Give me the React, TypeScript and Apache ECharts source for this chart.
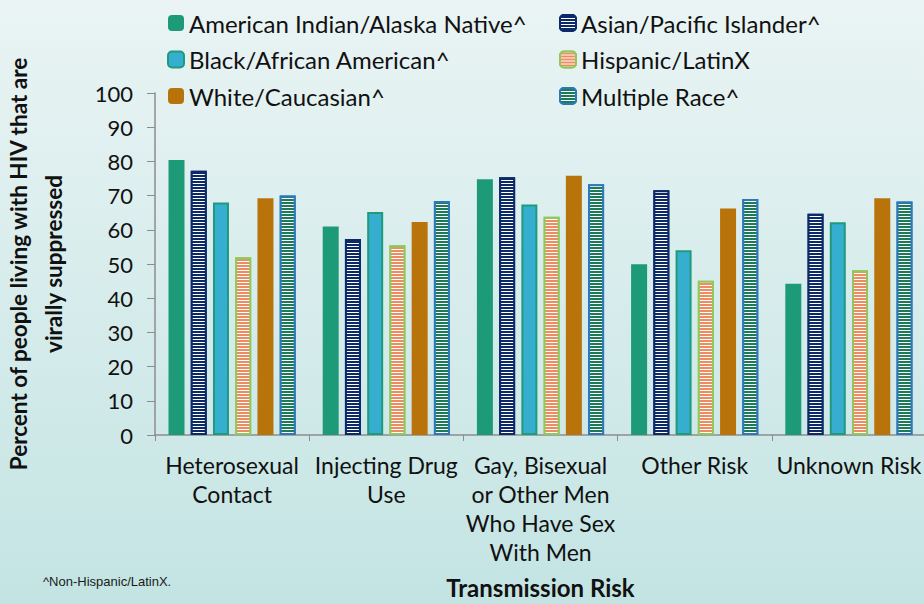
import React, { useEffect, useRef } from "react";
import * as echarts from "echarts";

const categories = [
  "Heterosexual\nContact",
  "Injecting Drug\nUse",
  "Gay, Bisexual\nor Other Men\nWho Have Sex\nWith Men",
  "Other Risk",
  "Unknown Risk",
];

const seriesNames = [
  "American Indian/Alaska Native^",
  "Asian/Pacific Islander^",
  "Black/African American^",
  "Hispanic/LatinX",
  "White/Caucasian^",
  "Multiple Race^",
];

const aiValues = [80.4, 61, 74.8, 49.9, 44.2];
const asianValues = [77.3, 57.3, 75.4, 71.6, 64.7];
const blackValues = [68, 65.2, 67.4, 54, 62.2];
const hispanicValues = [52, 55.5, 63.8, 45.1, 48.2];
const whiteValues = [69.2, 62.3, 75.8, 66.2, 69.2];
const multipleValues = [70, 68.4, 73.3, 69, 68.3];

const yTicks = [0, 10, 20, 30, 40, 50, 60, 70, 80, 90, 100];

const FONT = "Lato";

function stripeDecal() {
  return {
    symbol: "rect",
    symbolSize: 1,
    symbolKeepAspect: false,
    dashArrayX: [[20, 0]],
    dashArrayY: [1, 2],
    color: "#ffffff",
    rotation: 0,
  };
}

export default function App() {
  const ref = useRef<HTMLDivElement>(null);

  useEffect(() => {
    if (!ref.current) return;
    const chart = echarts.init(ref.current, null, { renderer: "svg" });

    const styles = [
      { color: "#1d9a78" },
      { color: "#0c2a68", borderColor: "#0c2a68", borderWidth: 2, decal: stripeDecal() },
      { color: "#36aed0", borderColor: "#1f9a7c", borderWidth: 2 },
      { color: "#ee8b60", borderColor: "#93c75c", borderWidth: 2, decal: stripeDecal() },
      { color: "#b8740b" },
      { color: "#1b7b57", borderColor: "#2d78b8", borderWidth: 2, decal: stripeDecal() },
    ];
    const values = [aiValues, asianValues, blackValues, hispanicValues, whiteValues, multipleValues];

    const series = seriesNames.map((name, i) => ({
      name,
      type: "bar",
      data: values[i],
      barWidth: 16,
      barGap: "39%",
      itemStyle: styles[i],
      emphasis: { disabled: true },
    }));

    const legendText = { fontFamily: FONT, fontSize: 24, lineHeight: 24, color: "#111111" };

    chart.setOption({
      animation: false,
      backgroundColor: new echarts.graphic.LinearGradient(0, 0, 0, 1, [
        { offset: 0, color: "#eaf4f4" },
        { offset: 1, color: "#c3e4e3" },
      ]),
      legend: [
        {
          data: [seriesNames[0], seriesNames[2], seriesNames[4]],
          orient: "vertical",
          left: 167,
          top: 11,
          padding: 0,
          itemWidth: 16,
          itemHeight: 16,
          itemGap: 12.5,
          textStyle: legendText,
          selectedMode: false,
        },
        {
          data: [seriesNames[1], seriesNames[3], seriesNames[5]],
          orient: "vertical",
          left: 559,
          top: 11,
          padding: 0,
          itemWidth: 16,
          itemHeight: 16,
          itemGap: 12.5,
          textStyle: legendText,
          selectedMode: false,
        },
      ],
      grid: {
        left: 155,
        top: 93,
        width: 771,
        height: 342,
        containLabel: false,
        outerBoundsMode: "none",
      },
      xAxis: {
        type: "category",
        data: categories,
        axisLine: { lineStyle: { color: "#8c8c8c", width: 1.5 } },
        axisTick: { show: true, length: 6, lineStyle: { color: "#8c8c8c" } },
        axisLabel: {
          fontFamily: FONT,
          fontSize: 23,
          color: "#111111",
          lineHeight: 29,
          margin: 15,
          interval: 0,
        },
        name: "Transmission Risk",
        nameLocation: "middle",
        nameGap: 142,
        nameTextStyle: {
          fontFamily: FONT,
          fontSize: 24,
          lineHeight: 20,
          fontWeight: "bold",
          color: "#111111",
        },
      },
      yAxis: {
        type: "value",
        min: 0,
        max: 100,
        interval: 10,
        splitLine: { show: false },
        axisLine: { show: true, lineStyle: { color: "#8c8c8c", width: 1.5 } },
        axisTick: { show: true, length: 8, lineStyle: { color: "#8c8c8c" } },
        axisLabel: {
          fontFamily: FONT,
          fontSize: 22,
          color: "#111111",
          margin: 22,
          formatter: (v: number) => (yTicks.includes(v) ? String(v) : ""),
        },
        name: "Percent of people living with HIV that are\nvirally suppressed",
        nameLocation: "middle",
        nameRotate: 90,
        nameGap: 84,
        nameTextStyle: {
          fontFamily: FONT,
          fontSize: 22.5,
          fontWeight: "bold",
          color: "#111111",
          lineHeight: 35,
        },
      },
      graphic: [
        {
          type: "text",
          left: 43,
          top: 575,
          style: {
            text: "^Non-Hispanic/LatinX.",
            font: "13px 'Liberation Sans', Arial, sans-serif",
            fill: "#1a1a1a",
          },
        },
      ],
      series,
    });

    return () => chart.dispose();
  }, []);

  return (
    <div
      ref={ref}
      style={{ position: "fixed", left: 0, top: 0, width: 924, height: 604 }}
    />
  );
}
